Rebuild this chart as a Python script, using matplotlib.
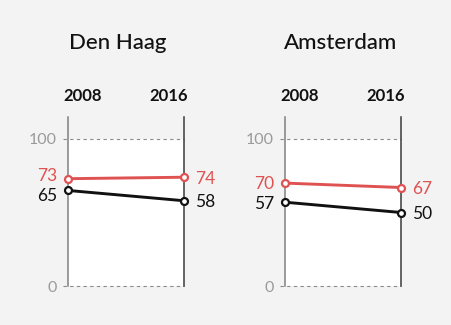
import matplotlib
matplotlib.use("Agg")
import matplotlib.pyplot as plt

plt.rcParams['font.family'] = ['Lato', 'DejaVu Sans']

# ---- data ----
cities = ["Den Haag", "Amsterdam"]
year_labels = ["2008", "2016"]
red_den_haag = [73, 74]
black_den_haag = [65, 58]
red_amsterdam = [70, 67]
black_amsterdam = [57, 50]
y_ticks = [0, 100]

series_red = [red_den_haag, red_amsterdam]
series_black = [black_den_haag, black_amsterdam]

# ---- style ----
W, H = 452, 325
BG = '#f3f3f3'
RED = '#e05252'
BLACK = '#111111'
GRID = '#8a8a8a'
TICKC = '#9a9a9a'

fig = plt.figure(figsize=(W / 100, H / 100), dpi=100, facecolor=BG)

panel_left = [68, 285]
panel_w = 116
top_px, bot_px = 139, 286
title_cx = [117.5, 340.5]
px_per_unit = (bot_px - top_px) / 100.0


def fx(x):
    return x / W


def fy(y):
    return 1 - y / H


for i, city in enumerate(cities):
    l = panel_left[i]
    ax = fig.add_axes([fx(l), fy(bot_px), panel_w / W, (bot_px - top_px) / H])
    ax.set_facecolor('white')
    ax.set_xlim(0, 1)
    ax.set_ylim(0, 100)
    ax.set_xticks([])
    ax.set_yticks([])
    for s in ax.spines.values():
        s.set_visible(False)

    # dashed gridlines + tick labels
    for t in y_ticks:
        ax.plot([-5 / panel_w, 1], [t, t], ls=(0, (3, 3)), color=GRID, lw=0.8,
                clip_on=False, zorder=2)
        ax.annotate(str(t), (0, t), xytext=(-11, 0), textcoords='offset pixels',
                    ha='right', va='center_baseline', fontsize=11.5, color=TICKC)

    # vertical year lines
    top_val = (bot_px - 117) / px_per_unit
    ax.plot([0, 0], [0, top_val], color='#808080', lw=1.1, clip_on=False, zorder=3)
    ax.plot([1, 1], [0, top_val], color='#3a3a3a', lw=1.1, clip_on=False, zorder=3)

    red = series_red[i]
    blk = series_black[i]
    for vals, c in ((red, RED), (blk, BLACK)):
        ax.plot([0, 1], vals, color=c, lw=2.1, marker='o', ms=5, mfc='white',
                mec=c, mew=1.6, clip_on=False, zorder=5, solid_capstyle='round')

    # value labels with simple repulsion
    min_sep = 20.0
    for j, (side_x, dx, ha) in enumerate(((0, -11, 'right'), (1, 11, 'left'))):
        r, b = red[j], blk[j]
        sep = abs(r - b) * px_per_unit
        push = max(0.0, (min_sep - sep) / 2)
        hi_is_red = r >= b
        for v, c, is_hi in ((r, RED, hi_is_red), (b, BLACK, not hi_is_red)):
            dy = push if is_hi else -push
            ax.annotate(str(v), (side_x, v), xytext=(dx, dy), textcoords='offset pixels',
                        ha=ha, va='center_baseline', fontsize=12.5, color=c)

    # title and year labels
    fig.text(fx(title_cx[i]), fy(49), city, ha='center', va='baseline',
             fontsize=16, fontweight='medium', color='#111111')
    fig.text(fx(l - 4.5), fy(101), year_labels[0], ha='left', va='baseline',
             fontsize=12, fontweight='bold', color='#111111')
    fig.text(fx(l + panel_w + 3.5), fy(101), year_labels[1], ha='right', va='baseline',
             fontsize=12, fontweight='bold', color='#111111')

fig.savefig('out.png', dpi=100, facecolor=BG)
